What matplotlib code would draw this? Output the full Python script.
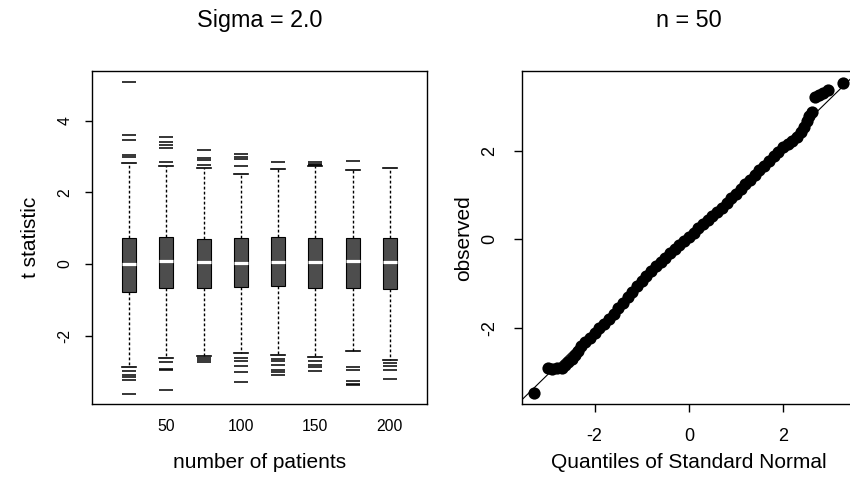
import matplotlib
matplotlib.use('Agg')
import matplotlib.pyplot as plt

plt.rcParams['font.family'] = ['Liberation Sans', 'DejaVu Sans']
plt.rcParams['axes.unicode_minus'] = False

# left panel: t statistic by number of patients (Sigma = 2.0)
patients = [25, 50, 75, 100, 125, 150, 175, 200]
q1 = [-0.79, -0.66, -0.66, -0.64, -0.61, -0.66, -0.66, -0.70]
median = [0.00, 0.085, 0.056, 0.03, 0.056, 0.056, 0.085, 0.065]
q3 = [0.72, 0.75, 0.70, 0.72, 0.75, 0.72, 0.72, 0.72]
whisk_lo = [-2.89, -2.64, -2.56, -2.50, -2.54, -2.61, -2.44, -2.69]
whisk_hi = [2.81, 2.74, 2.67, 2.50, 2.66, 2.74, 2.63, 2.67]
out_hi = [
    [5.09, 3.59, 3.45, 3.05, 3.00],
    [3.55, 3.40, 3.32, 3.25, 2.86],
    [3.19, 2.95, 2.90, 2.76],
    [3.08, 3.00, 2.93, 2.73],
    [2.84],
    [2.85, 2.80, 2.76],
    [2.89],
    [],
]
out_lo = [
    [-3.00, -3.10, -3.17, -3.23, -3.62],
    [-2.74, -2.93, -2.95, -3.51],
    [-2.62, -2.68, -2.73],
    [-2.63, -2.70, -2.85, -3.03, -3.31],
    [-2.66, -2.72, -2.82, -2.97, -3.03, -3.10],
    [-2.70, -2.82, -2.89, -3.00],
    [-2.87, -2.97, -3.28, -3.34, -3.39],
    [-2.78, -2.85, -2.95, -3.22],
]

# right panel: normal QQ plot (n = 50)
theoretical = [-3.29, -2.99, -2.90, -2.80, -2.70, -2.62, -2.56, -2.49, -2.42, -2.35,
               -2.28, -2.20, -2.10, -2.00, -1.90, -1.80, -1.70, -1.60, -1.50, -1.40,
               -1.30, -1.20, -1.10, -1.00, -0.90, -0.80, -0.70, -0.60, -0.50, -0.40,
               -0.30, -0.20, -0.10, 0.00, 0.10, 0.20, 0.30, 0.40, 0.50, 0.60,
               0.70, 0.80, 0.90, 1.00, 1.10, 1.20, 1.30, 1.40, 1.50, 1.60,
               1.70, 1.80, 1.90, 2.00, 2.10, 2.20, 2.30, 2.38, 2.45, 2.50,
               2.55, 2.61, 2.68, 2.76, 2.85, 2.96, 3.28]
observed = [-3.47, -2.92, -2.93, -2.92, -2.90, -2.84, -2.77, -2.70, -2.62, -2.52,
            -2.42, -2.32, -2.22, -2.12, -2.01, -1.91, -1.81, -1.69, -1.56, -1.43,
            -1.31, -1.18, -1.05, -0.94, -0.83, -0.72, -0.61, -0.51, -0.41, -0.31,
            -0.21, -0.12, -0.03, 0.06, 0.15, 0.25, 0.34, 0.44, 0.53, 0.62,
            0.72, 0.82, 0.93, 1.03, 1.14, 1.25, 1.35, 1.46, 1.57, 1.67,
            1.78, 1.88, 1.98, 2.08, 2.16, 2.23, 2.32, 2.42, 2.55, 2.68,
            2.80, 2.88, 3.23, 3.27, 3.31, 3.38, 3.53]
qq_intercept = 0.06
qq_slope = 1.04

W, H = 850, 490
fig = plt.figure(figsize=(W / 100, H / 100), dpi=100)
ax1 = fig.add_axes([92 / W, 1 - 404.3 / H, 335 / W, 333.3 / H])
ax2 = fig.add_axes([521.7 / W, 1 - 404.3 / H, 334.3 / W, 333.3 / H])

stats = []
for i in range(len(patients)):
    stats.append(dict(med=median[i], q1=q1[i], q3=q3[i],
                      whislo=whisk_lo[i], whishi=whisk_hi[i],
                      fliers=out_hi[i] + out_lo[i]))

ax1.bxp(stats, positions=patients, widths=9.4, capwidths=9.4,
        patch_artist=True, manage_ticks=False,
        boxprops=dict(facecolor='#4d4d4d', edgecolor='black', linewidth=0.8),
        medianprops=dict(color='white', linewidth=2.3),
        whiskerprops=dict(color='black', linewidth=1.0, linestyle=(0, (2, 1.6))),
        capprops=dict(color='black', linewidth=1.2),
        flierprops=dict(marker='_', markersize=10, markeredgewidth=1.1,
                        markeredgecolor='black'))
ax1.set_xlim(0, 225)
ax1.set_ylim(-3.92, 5.39)
ax1.set_xticks([50, 100, 150, 200])
ax1.set_yticks([-2, 0, 2, 4])
ax1.tick_params(axis='x', length=0, pad=10.8, labelsize=11.3)
ax1.tick_params(axis='y', length=5, width=1, pad=9, labelsize=11.3, labelrotation=90)
for lab in ax1.get_yticklabels():
    lab.set_va('center')

ax2.plot(theoretical, observed, 'o', ms=8.8, mew=0, color='black')
ax2.axline((0, qq_intercept), slope=qq_slope, color='black', lw=0.8)
ax2.set_xlim(-3.55, 3.55)
ax2.set_ylim(-3.73, 3.81)
ax2.set_xticks([-2, 0, 2])
ax2.set_yticks([-2, 0, 2])
ax2.tick_params(axis='both', length=6, width=1, pad=11, labelsize=13)
ax2.tick_params(axis='y', labelrotation=90)
for lab in ax2.get_yticklabels():
    lab.set_va('center')

for ax in (ax1, ax2):
    for s in ax.spines.values():
        s.set_linewidth(1.0)

fig.text(259.5 / W, 1 - 26.7 / H, 'Sigma = 2.0', ha='center', va='baseline', fontsize=16.8)
fig.text(689 / W, 1 - 26.7 / H, 'n = 50', ha='center', va='baseline', fontsize=16.8)
fig.text(259.5 / W, 1 - 468 / H, 'number of patients', ha='center', va='baseline', fontsize=15)
fig.text(689 / W, 1 - 468 / H, 'Quantiles of Standard Normal', ha='center', va='baseline', fontsize=15)
fig.text(30 / W, 1 - 237.7 / H, 't statistic', rotation=90, ha='center', va='center', fontsize=15)
fig.text(464 / W, 1 - 237.7 / H, 'observed', rotation=90, ha='center', va='center', fontsize=15)

fig.savefig('out.png', dpi=100)
